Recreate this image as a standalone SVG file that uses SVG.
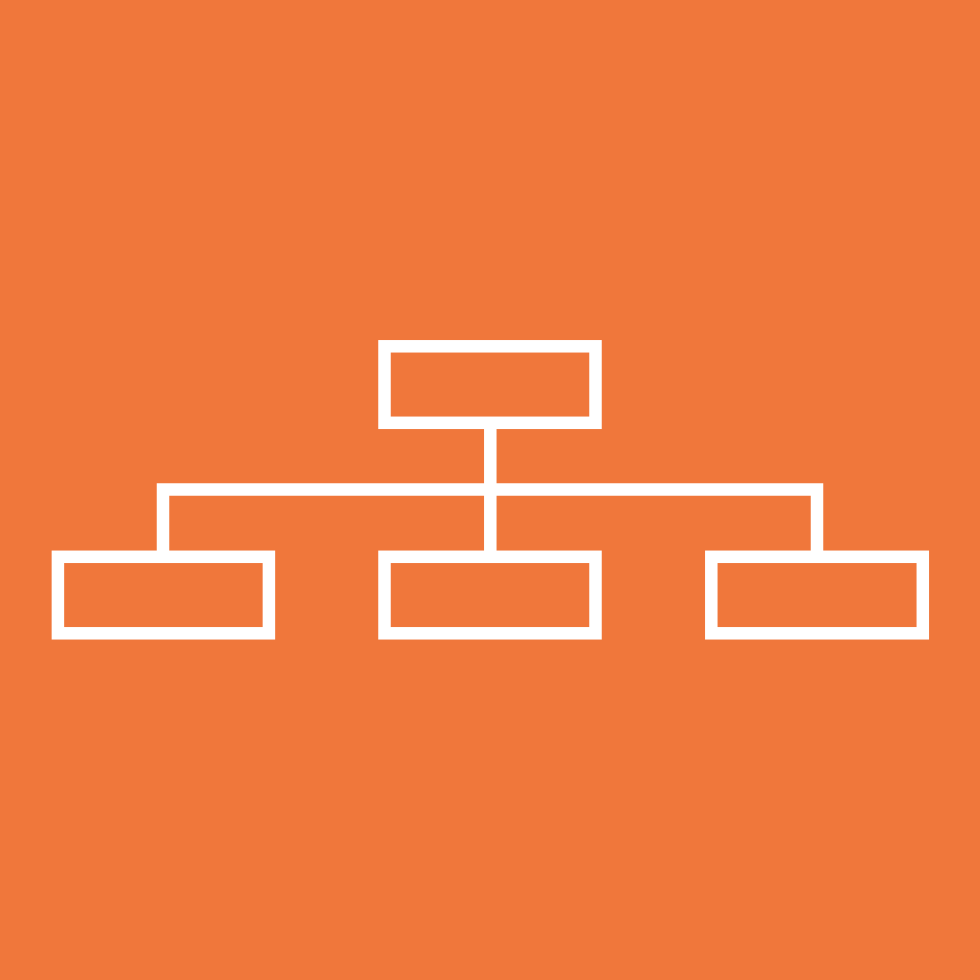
<svg xmlns="http://www.w3.org/2000/svg" width="980" height="980" viewBox="0 0 980 980">
<style>
.box{fill:none;stroke:#ffffff;stroke-width:12.5;stroke-linejoin:miter}
.conn{fill:none;stroke:#ffffff;stroke-width:12.5;stroke-linejoin:miter;stroke-linecap:butt}
</style>
<rect x="0" y="0" width="980" height="980" fill="#F0773B"/>
<g id="connectors">
<path class="conn" d="M163 557 V489.6 H817 V557"/>
<path class="conn" d="M490.3 423 V557"/>
</g>
<g id="top"><rect class="box" x="384.5" y="346.3" width="211" height="76.5"/></g>
<g id="left"><rect class="box" x="57.9" y="556.8" width="211" height="76.5"/></g>
<g id="middle"><rect class="box" x="384.5" y="556.8" width="211" height="76.5"/></g>
<g id="right"><rect class="box" x="711.3" y="556.8" width="211.5" height="76.5"/></g>
</svg>
